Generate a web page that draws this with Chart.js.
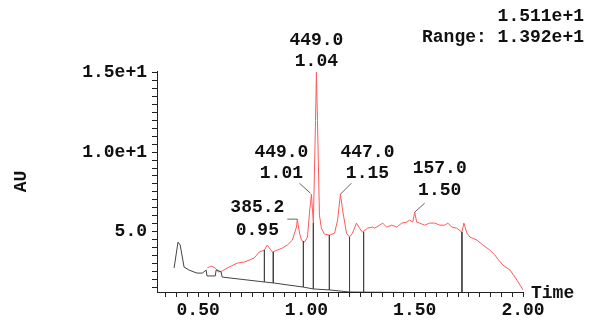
<!DOCTYPE html>
<html>
<head>
<meta charset="utf-8">
<script src="https://cdn.jsdelivr.net/npm/chart.js@4"></script>
<style>
  html, body { margin: 0; padding: 0; background: #fff; }
  #wrap { width: 590px; height: 320px; }
</style>
</head>
<body>
<div id="wrap"><canvas id="chrom" width="590" height="320"></canvas></div>
<script>
// chromatogram trace (time, AU)
const redTime = [0.542, 0.560, 0.579, 0.593, 0.611, 0.634, 0.653, 0.681, 0.713, 0.736, 0.759, 0.782, 0.806, 0.819, 0.829, 0.843, 0.866, 0.889, 0.912, 0.935, 0.954, 0.958, 0.968, 0.977, 0.991, 1.005, 1.014, 1.023, 1.032, 1.042, 1.046, 1.051, 1.060, 1.069, 1.083, 1.106, 1.130, 1.144, 1.157, 1.167, 1.185, 1.199, 1.213, 1.231, 1.245, 1.259, 1.282, 1.306, 1.315, 1.338, 1.352, 1.370, 1.394, 1.417, 1.440, 1.463, 1.477, 1.491, 1.500, 1.509, 1.523, 1.546, 1.569, 1.593, 1.616, 1.639, 1.653, 1.671, 1.694, 1.718, 1.727, 1.741, 1.755, 1.787, 1.815, 1.847, 1.870, 1.880, 1.907, 1.940, 1.972, 2.000];
const redAU   = [2.70, 2.83, 2.70, 2.45, 2.51, 2.70, 2.83, 3.01, 3.08, 3.20, 3.33, 3.71, 3.83, 4.15, 3.96, 3.71, 3.83, 3.96, 4.15, 4.46, 5.28, 5.78, 4.90, 4.46, 4.33, 4.65, 6.16, 7.35, 5.53, 12.0, 15.03, 12.0, 6.03, 5.21, 4.84, 4.77, 4.90, 5.72, 7.35, 6.35, 4.90, 4.65, 4.90, 5.53, 5.21, 4.96, 5.21, 5.28, 5.21, 5.40, 5.53, 5.28, 5.40, 5.28, 5.53, 5.59, 5.72, 5.59, 6.22, 5.59, 5.53, 5.40, 5.53, 5.53, 5.40, 5.40, 5.53, 5.28, 5.21, 4.96, 5.53, 4.90, 4.65, 4.46, 4.15, 3.83, 3.52, 3.33, 2.89, 2.57, 1.94, 1.32];

// early black trace
const blackTime = [0.389, 0.398, 0.407, 0.417, 0.435, 0.458, 0.481, 0.495, 0.519, 0.537, 0.541, 0.551, 0.579, 0.583, 0.588, 0.606, 0.611];
const blackAU   = [2.70, 3.52, 4.33, 4.15, 2.76, 2.57, 2.45, 2.38, 2.38, 2.57, 2.20, 2.20, 2.20, 2.57, 2.57, 2.45, 2.13];

// integration baseline
const baseTime = [0.611, 0.806, 0.847, 0.986, 1.032, 1.106, 1.199, 2.000];
const baseAU   = [2.13, 1.82, 1.76, 1.50, 1.38, 1.32, 1.19, 1.10];

// peak drop lines
const dropTime   = [0.806, 0.847, 0.986, 1.032, 1.106, 1.199, 1.264, 1.718];
const dropTop    = [3.83, 3.71, 4.40, 5.53, 4.77, 4.65, 4.96, 4.96];
const dropBottom = [1.82, 1.76, 1.50, 1.38, 1.32, 1.19, 1.10, 1.10];

// peak annotations
const peakMass = ['385.2', '449.0', '449.0', '447.0', '157.0'];
const peakTime = ['0.95', '1.01', '1.04', '1.15', '1.50'];

const xMin = 0.31, xMax = 2.0;
const yMin = 1.19, yMax = 15.11;
const xLabelValues = [0.5, 1.0, 1.5, 2.0];
const xTickLabels = ['0.50', '1.00', '1.50', '2.00'];
const yLabelValues = [5, 10, 15];
const yTickLabels = ['5.0', '1.0e+1', '1.5e+1'];
const maxText = '1.511e+1';
const rangeText = 'Range: 1.392e+1';

const MONO = 'Liberation Mono, Courier New, monospace';
const axisColor = '#222';

const toPoints = (xs, ys) => xs.map((x, i) => ({ x: x, y: ys[i] }));
const dropPoints = [];
dropTime.forEach((t, i) => {
    dropPoints.push({ x: t, y: dropTop[i] }, { x: t, y: dropBottom[i] }, { x: t, y: null });
});

function labelFor(values, labels) {
    return v => {
        const i = values.findIndex(a => Math.abs(a - v) < 1e-6);
        return i >= 0 ? labels[i] : '';
    };
}

function stepTicks(from, to, step) {
    const out = [];
    for (let k = Math.ceil(from / step - 1e-9); k * step <= to + 1e-9; k++) out.push({ value: +(k * step).toFixed(4) });
    return out;
}

// leader/label placement relative to apex: [dx text, dy line1, dy line2, leader dx, leader dy]
const labelLayout = [
    { tx: -40, l1: -12, l2: 11, lead: [[-10, 0], [0, 0]] },
    { tx: -30, l1: -42, l2: -21, lead: [[-12, -11], [-1, -1]] },
    { tx: 0, l1: -32, l2: -11, lead: null },
    { tx: 27, l1: -42, l2: -21, lead: [[11, -11], [0, 0]] },
    { tx: 25, l1: -44, l2: -22, lead: [[10, -9], [0, 0]] }
];

const annotate = {
    id: 'annotate',
    afterDraw(chart) {
        const { ctx, scales: { x, y }, chartArea } = chart;
        ctx.save();
        ctx.font = 'bold 18px ' + MONO;
        ctx.fillStyle = '#111';
        ctx.textAlign = 'center';
        ctx.textBaseline = 'middle';
        peakTime.forEach((pt, i) => {
            const t = parseFloat(pt);
            let best = -1;
            redTime.forEach((rt, j) => {
                if (Math.abs(rt - t) < 0.026 && (best < 0 || redAU[j] > redAU[best])) best = j;
            });
            const px = x.getPixelForValue(redTime[best]);
            const py = y.getPixelForValue(redAU[best]);
            const L = labelLayout[i];
            ctx.fillText(peakMass[i], px + L.tx, py + L.l1);
            ctx.fillText(pt, px + L.tx, py + L.l2);
            if (L.lead) {
                ctx.strokeStyle = '#666';
                ctx.lineWidth = 1;
                ctx.beginPath();
                ctx.moveTo(px + L.lead[0][0], py + L.lead[0][1]);
                ctx.lineTo(px + L.lead[1][0], py + L.lead[1][1]);
                ctx.stroke();
            }
        });
        ctx.textAlign = 'left';
        ctx.fillText('Time', chartArea.right + 8, chartArea.bottom + 1);
        ctx.textAlign = 'right';
        ctx.fillText(maxText, 584, 16);
        ctx.fillText(rangeText, 584, 37);
        ctx.restore();
    }
};

new Chart(document.getElementById('chrom'), {
    type: 'line',
    data: {
        datasets: [
            { data: toPoints(baseTime, baseAU), borderColor: '#444', borderWidth: 1, pointRadius: 0, tension: 0 },
            { data: dropPoints, borderColor: '#444', borderWidth: 1, pointRadius: 0, spanGaps: false },
            { data: toPoints(blackTime, blackAU), borderColor: '#444', borderWidth: 1, pointRadius: 0, tension: 0 },
            { data: toPoints(redTime, redAU), borderColor: 'rgb(255, 90, 90)', borderWidth: 1, pointRadius: 0, tension: 0 }
        ]
    },
    options: {
        responsive: false,
        animation: false,
        events: [],
        layout: { padding: { left: 0, right: 67, top: 71, bottom: 0 } },
        plugins: { legend: { display: false }, tooltip: { enabled: false } },
        scales: {
            x: {
                type: 'linear', min: xMin, max: xMax,
                afterBuildTicks: s => { s.ticks = stepTicks(0.35, xMax, 0.05); },
                afterFit: s => { s.height = 28; },
                border: { color: axisColor, width: 1 },
                grid: { drawOnChartArea: false, tickLength: 5, tickColor: axisColor },
                ticks: { autoSkip: false, maxRotation: 0, padding: 3, color: '#111',
                         font: { family: MONO, size: 18, weight: 'bold' },
                         callback: labelFor(xLabelValues, xTickLabels) }
            },
            y: {
                type: 'linear', min: yMin, max: yMax,
                afterBuildTicks: s => { s.ticks = stepTicks(1.5, 15, 0.5); },
                afterFit: s => { s.width = 157; },
                border: { color: axisColor, width: 1 },
                grid: { drawOnChartArea: false, tickLength: 5, tickColor: axisColor },
                title: { display: true, text: 'AU', color: '#111', padding: { top: 11, bottom: 0 },
                         font: { family: MONO, size: 18, weight: 'bold' } },
                ticks: { autoSkip: false, padding: 5, color: '#111',
                         font: { family: MONO, size: 18, weight: 'bold' },
                         callback: labelFor(yLabelValues, yTickLabels) }
            }
        }
    },
    plugins: [annotate]
});
</script>
</body>
</html>
